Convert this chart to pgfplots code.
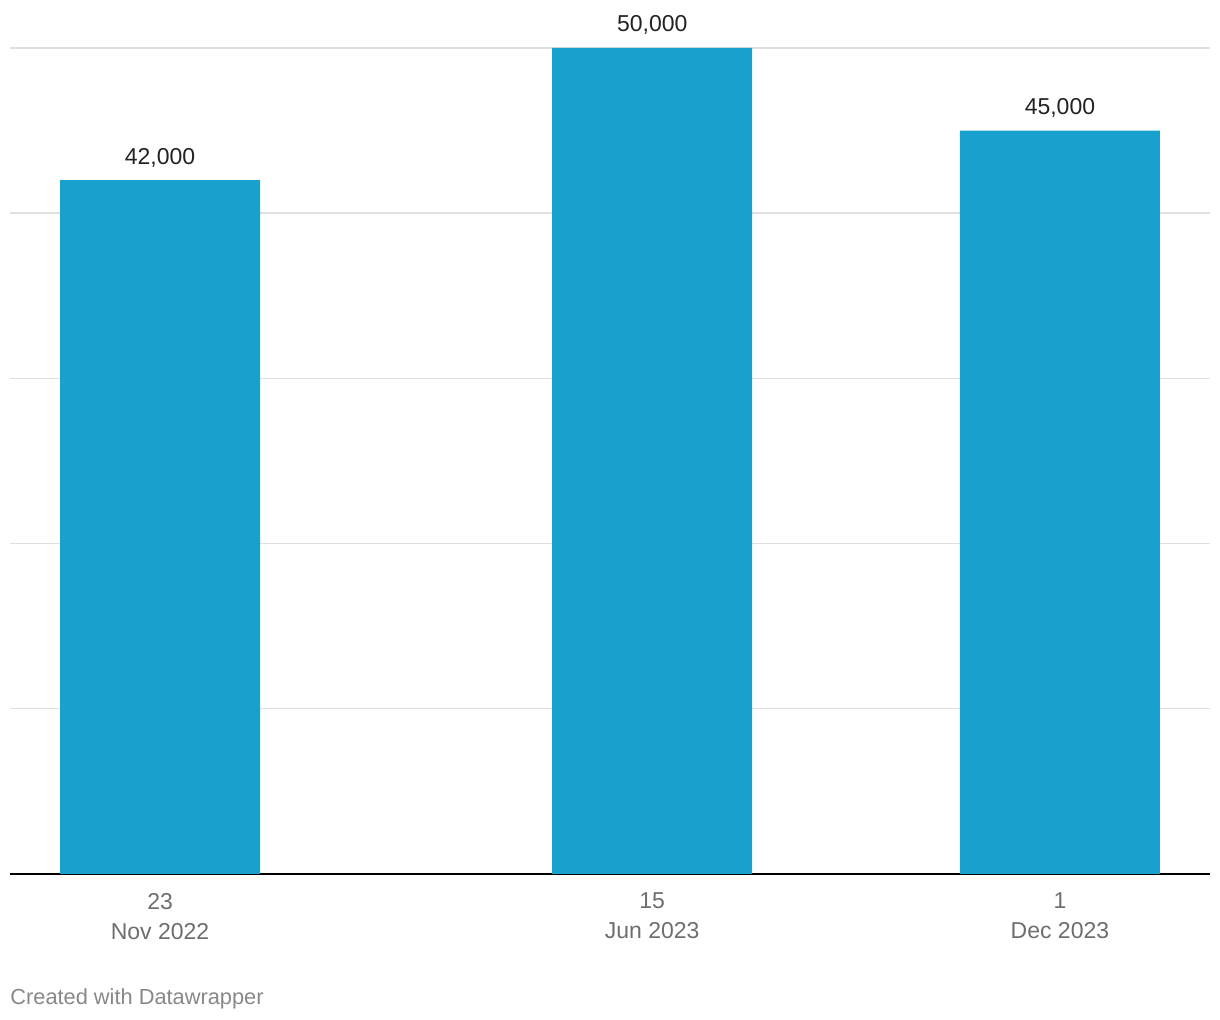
\documentclass[border=0pt]{standalone}
\usepackage{pgfplots}
\pgfplotsset{compat=1.18}
\usepackage{fontspec}
\setmainfont{Liberation Sans}
\definecolor{barblue}{HTML}{18A1CD}
\definecolor{gridgray}{HTML}{E0E0E0}
\definecolor{ticktext}{HTML}{6E6E6E}
\definecolor{valtext}{HTML}{222222}
\definecolor{foot}{HTML}{888888}
\begin{document}
\begin{tikzpicture}
\useasboundingbox (-5pt,-73pt) rectangle (605pt,437pt);
\begin{axis}[
  at={(0pt,0pt)}, anchor=south west,
  scale only axis,
  width=600pt, height=413pt,
  xmin=-62.2, xmax=435.2,
  ymin=0, ymax=50000,
  axis x line*=bottom,
  axis y line*=left,
  x axis line style={-, black, line width=0.8pt},
  y axis line style={draw=none},
  ytick={0,10000,20000,30000,40000,50000},
  yticklabels={},
  scaled y ticks=false,
  ymajorgrids,
  grid style={gridgray, line width=0.7pt},
  xtick={0,204,373},
  xticklabels={23\\Nov 2022, 15\\Jun 2023, 1\\Dec 2023},
  major tick length=0pt,
  xticklabel style={align=center, font=\fontsize{11.5}{15}\selectfont, text=ticktext, yshift=-6pt},
  ybar, bar width=100pt,
  clip=false,
  /pgf/number format/assume math mode=true,
  nodes near coords={\pgfmathprintnumber[fixed,1000 sep={,}]{\pgfplotspointmeta}},
  nodes near coords style={font=\fontsize{11.5}{14}\selectfont, text=valtext, yshift=3pt},
]
\addplot[draw=none, fill=barblue] coordinates {(0,42000) (204,50000) (373,45000)};
\end{axis}
\node[anchor=west, inner sep=0pt, font=\fontsize{10.9}{12}\selectfont, text=foot] at (0pt,-62.5pt) {Created with Datawrapper};
\end{tikzpicture}
\end{document}
